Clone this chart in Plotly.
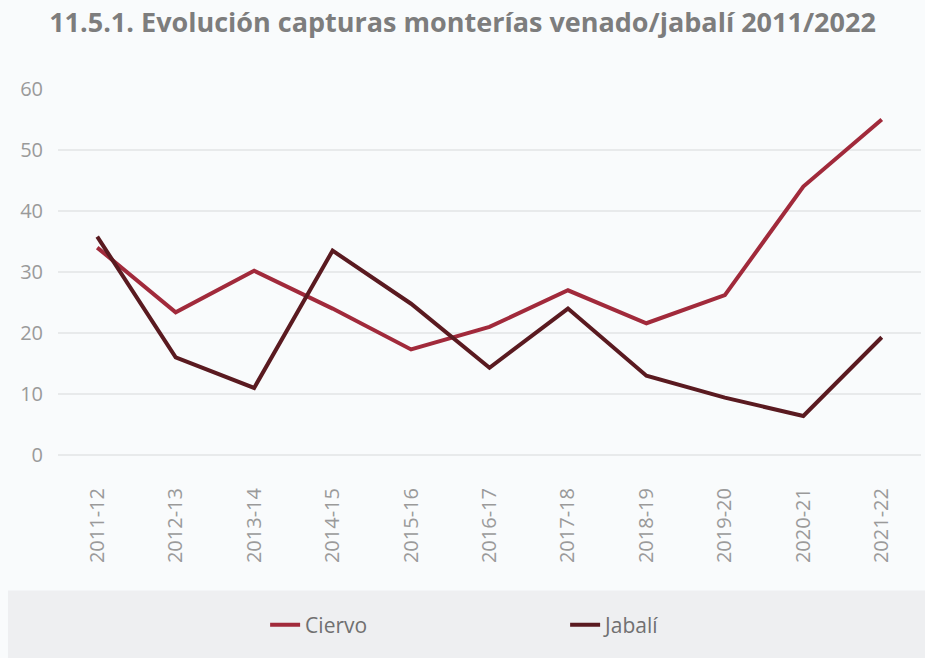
import plotly.graph_objects as go

temporadas = ["2011-12", "2012-13", "2013-14", "2014-15", "2015-16", "2016-17",
              "2017-18", "2018-19", "2019-20", "2020-21", "2021-22"]
ciervo = [34, 23.4, 30.2, 24, 17.3, 21, 27, 21.6, 26.2, 44, 55]
jabali = [35.8, 16, 11, 33.5, 24.8, 14.3, 24, 13, 9.4, 6.4, 19.3]
y_ticks = [0, 10, 20, 30, 40, 50, 60]

color_ciervo = "#a12a3b"
color_jabali = "#5a1a20"
gris = "#9a9a9a"

fig = go.Figure()
fig.add_trace(go.Scatter(x=temporadas, y=ciervo, name="Ciervo", mode="lines",
                         line=dict(color=color_ciervo, width=4)))
fig.add_trace(go.Scatter(x=temporadas, y=jabali, name="Jabalí", mode="lines",
                         line=dict(color=color_jabali, width=4)))

# grey band behind the legend
fig.add_shape(type="rect", xref="paper", yref="paper",
              x0=-0.058, x1=1.01, y0=-0.56, y1=-0.37,
              fillcolor="#eeeff1", line_width=0, layer="below")

fig.update_layout(
    width=925, height=658,
    margin=dict(l=58, r=4, t=89, b=203, autoexpand=False),
    paper_bgcolor="#f9fbfc", plot_bgcolor="#f9fbfc",
    font=dict(family="Open Sans", color=gris),
    title=dict(text="<b>11.5.1. Evolución capturas monterías venado/jabalí 2011/2022</b>",
               x=0.5, xanchor="center", y=0.965, yanchor="middle",
               font=dict(size=27, color="#7d7d7d", family="Open Sans")),
    showlegend=True,
    legend=dict(orientation="h", x=0.24, xanchor="left", y=-0.465, yanchor="middle",
                font=dict(size=21, color="#707070"), entrywidth=255,
                bgcolor="rgba(0,0,0,0)"),
    xaxis=dict(type="category", range=[-0.5, 10.5], tickangle=-90,
               showgrid=False, zeroline=False, showline=False, ticks="",
               tickfont=dict(size=20, color=gris), ticklabelstandoff=28),
    yaxis=dict(range=[0, 60], tickvals=y_ticks, showgrid=True,
               gridcolor="#e8eaeb", gridwidth=2, zeroline=True,
               zerolinecolor="#e8eaeb", zerolinewidth=2, showline=False,
               tickfont=dict(size=20, color=gris), ticklabelstandoff=14),
)

fig.write_html("out.html")
